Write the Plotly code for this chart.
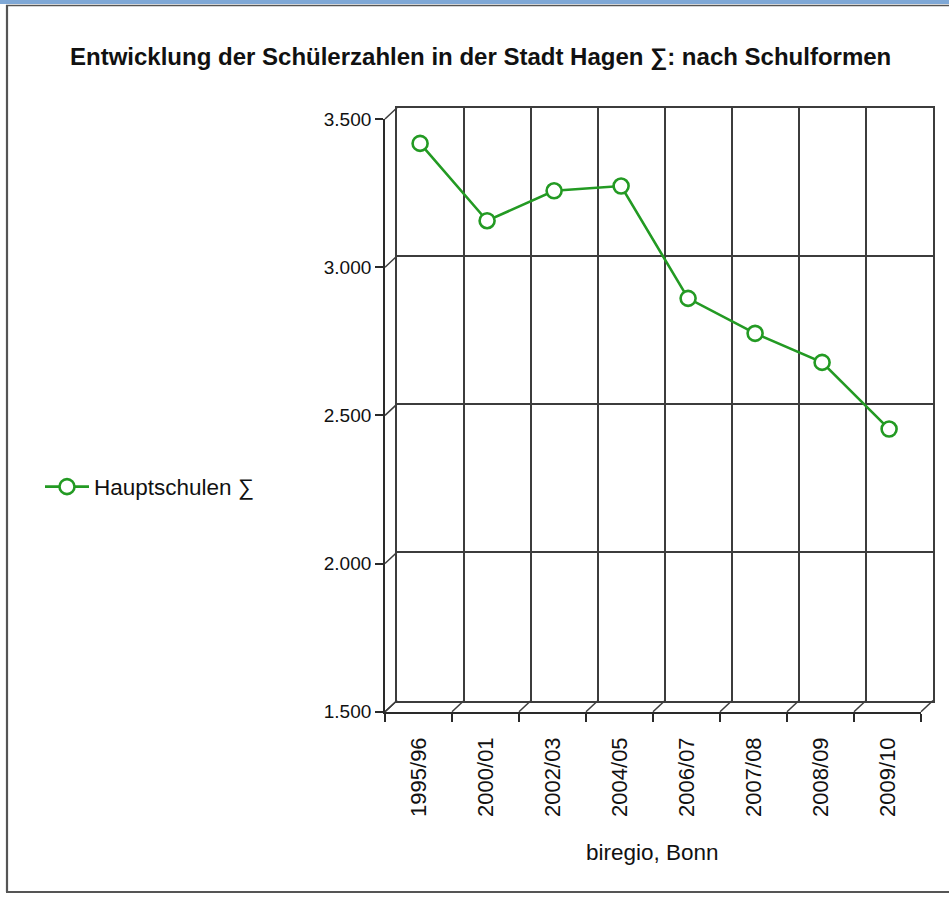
import plotly.graph_objects as go

# ---- data ----
years = ["1995/96", "2000/01", "2002/03", "2004/05", "2006/07", "2007/08", "2008/09", "2009/10"]
hauptschulen = [3413, 3152, 3253, 3269, 2890, 2772, 2674, 2449]
series_name = "Hauptschulen ∑"
title_text = "Entwicklung der Schülerzahlen in der Stadt Hagen ∑: nach Schulformen"
source_text = "biregio, Bonn"
y_ticks = [1500, 2000, 2500, 3000, 3500]

# ---- geometry (pixels) ----
W, H = 949, 897
FRONT_L, FRONT_R, FRONT_T, FRONT_B = 385, 921, 119, 711.7
DX, DY = 12, 11.2  # depth offset of back wall
BACK_L, BACK_R, BACK_T, BACK_B = FRONT_L + DX, FRONT_R + DX, FRONT_T - DY, FRONT_B - DY
DATA_DX, DATA_DY = 1.6, 1.4  # line plane slightly behind front
YMIN, YMAX = 1500, 3500

def px(x):
    return x / W

def py(y):
    return 1 - y / H

def fy(v):
    return FRONT_B - (v - YMIN) * (FRONT_B - FRONT_T) / (YMAX - YMIN)

def by(v):
    return BACK_B - (v - YMIN) * (BACK_B - BACK_T) / (YMAX - YMIN)

GREEN = "#239a23"
GRID = "#3c3c3c"
AX = "#2a2a2a"
FONT = "Liberation Sans, Arial, sans-serif"
TXT = "#111111"
n = len(years)

fig = go.Figure()

fig.add_trace(go.Scatter(x=[0], y=[YMIN], xaxis="x", yaxis="y", mode="markers",
                         marker=dict(opacity=0), showlegend=False, hoverinfo="skip"))
fig.add_trace(go.Scatter(x=years, y=[None] * n, xaxis="x2", yaxis="y2", mode="markers",
                         marker=dict(opacity=0), showlegend=False, hoverinfo="skip"))
fig.add_trace(go.Scatter(
    x=years, y=hauptschulen, xaxis="x3", yaxis="y3", name=series_name,
    mode="lines+markers",
    line=dict(color=GREEN, width=2.6),
    marker=dict(symbol="circle", size=15, color="white", line=dict(color=GREEN, width=2.6)),
))

shapes = []
for v in y_ticks:
    shapes.append(dict(type="line", xref="paper", yref="paper",
                       x0=px(FRONT_L), y0=py(fy(v)), x1=px(BACK_L), y1=py(by(v)),
                       line=dict(color=GRID, width=1.5)))
cw = (FRONT_R - FRONT_L) / n
for i in range(n + 1):
    shapes.append(dict(type="line", xref="paper", yref="paper",
                       x0=px(FRONT_L + cw * i), y0=py(FRONT_B),
                       x1=px(BACK_L + cw * i), y1=py(BACK_B),
                       line=dict(color=GRID, width=1.5)))
# page frame
shapes.append(dict(type="rect", xref="paper", yref="paper", x0=0, x1=1, y0=py(0), y1=py(4),
                   fillcolor="#7fa8d6", line=dict(width=0)))
shapes.append(dict(type="line", xref="paper", yref="paper", x0=px(6), x1=1, y0=py(5.5), y1=py(5.5),
                   line=dict(color="#555555", width=1.5)))
shapes.append(dict(type="line", xref="paper", yref="paper", x0=px(7), x1=px(7), y0=py(5), y1=py(892),
                   line=dict(color="#555555", width=2.2)))
shapes.append(dict(type="line", xref="paper", yref="paper", x0=px(6), x1=1, y0=py(892), y1=py(892),
                   line=dict(color="#555555", width=2.2)))

annotations = [
    dict(text="<b>" + title_text + "</b>", xref="paper", yref="paper", x=px(480), y=py(57),
         xanchor="center", yanchor="middle", showarrow=False,
         font=dict(family=FONT, size=24, color=TXT)),
    dict(text=source_text, xref="paper", yref="paper", x=px(652), y=py(852),
         xanchor="center", yanchor="middle", showarrow=False,
         font=dict(family=FONT, size=22.5, color=TXT)),
]

fig.update_layout(
    width=W, height=H,
    margin=dict(l=0, r=0, t=0, b=0, pad=0, autoexpand=False),
    paper_bgcolor="white", plot_bgcolor="rgba(0,0,0,0)",
    separators=",.",
    font=dict(family=FONT, size=20, color=TXT),
    showlegend=True,
    legend=dict(x=px(40), y=py(487), xanchor="left", yanchor="middle",
                bgcolor="rgba(0,0,0,0)", font=dict(family=FONT, size=22.5, color=TXT),
                itemwidth=44),
    shapes=shapes,
    annotations=annotations,
    xaxis=dict(domain=[px(BACK_L), px(BACK_R)], range=[-0.5, n - 0.5], anchor="y",
               tickvals=[i + 0.5 for i in range(n - 1)], showticklabels=False, ticks="",
               showgrid=True, gridcolor=GRID, gridwidth=1.5, zeroline=False, automargin=False,
               showline=True, mirror=True, linecolor=GRID, linewidth=1.8),
    yaxis=dict(domain=[py(BACK_B), py(BACK_T)], range=[YMIN, YMAX], anchor="x",
               tickvals=y_ticks, showticklabels=False, ticks="",
               showgrid=True, gridcolor=GRID, gridwidth=1.5, zeroline=False, automargin=False,
               showline=True, mirror=True, linecolor=GRID, linewidth=1.8),
    xaxis2=dict(domain=[px(FRONT_L), px(FRONT_R)], type="category", categoryarray=years,
                categoryorder="array", range=[-0.5, n - 0.5], anchor="y2", automargin=False,
                tickson="boundaries", ticks="outside", ticklen=8, tickcolor=AX, tickwidth=1.5,
                tickangle=-90, ticklabelstandoff=15,
                tickfont=dict(family=FONT, size=22, color=TXT),
                showgrid=False, showline=True, linecolor=AX, linewidth=1.8, zeroline=False),
    yaxis2=dict(domain=[py(FRONT_B), py(FRONT_T)], range=[YMIN, YMAX], anchor="x2",
                tickvals=y_ticks, tickformat=",d", ticks="outside", ticklen=8, automargin=False,
                tickcolor=AX, tickwidth=1.5,
                tickfont=dict(family=FONT, size=19, color=TXT),
                showgrid=False, showline=True, linecolor=AX, linewidth=1.8, zeroline=False),
    xaxis3=dict(domain=[px(FRONT_L + DATA_DX), px(FRONT_R + DATA_DX)], type="category",
                categoryarray=years, categoryorder="array", range=[-0.5, n - 0.5],
                anchor="y3", visible=False, automargin=False),
    yaxis3=dict(domain=[py(FRONT_B - DATA_DY), py(FRONT_T - DATA_DY)], range=[YMIN, YMAX],
                anchor="x3", visible=False, automargin=False),
)

fig.write_html("out.html", config={"displayModeBar": False},
               post_script="document.body.style.margin='0';document.body.style.overflow='hidden';")
